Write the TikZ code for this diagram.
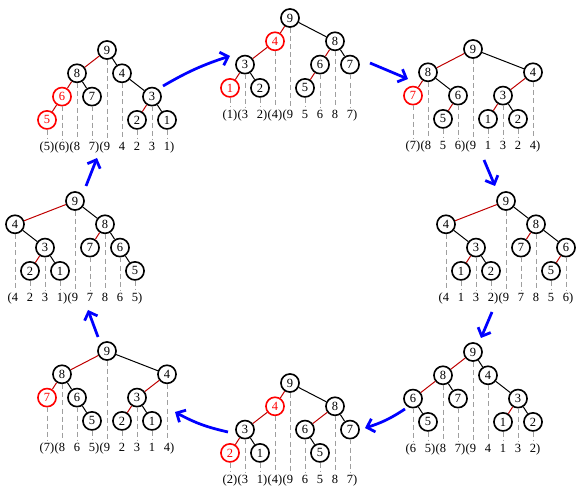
\documentclass[tikz,border=0pt]{standalone}
\usepackage{fontspec}
\setmainfont{Liberation Serif}
\usepackage{tikz}
\usetikzlibrary{arrows.meta}

\newcommand{\LP}{\llap{(}}
\newcommand{\RP}{\rlap{)}}

\begin{document}
\begin{tikzpicture}[x=0.8pt,y=-0.8pt,
  vtx/.style={circle,draw,line width=1.3pt,fill=white,minimum size=14.5pt,inner sep=0pt},
  hot/.style={vtx,draw=red,text=red},
  redge/.style={red!75!black,line width=0.8pt},
  bedge/.style={black,line width=0.8pt},
  guide/.style={gray!75,dash pattern=on 4pt off 2.5pt,line width=0.6pt},
  seq/.style={inner sep=1pt,text height=7.5pt,text depth=2.5pt},
  flow/.style={blue,line width=2.2pt,-{Straight Barb[length=5.5pt,width=11pt]}}]
\useasboundingbox (0,0) rectangle (581,491);

% tree A (top left)
\begin{scope}[shift={(47,50)},x=12pt,y=-18.64pt,name prefix=A-]
\node[vtx] (v9) at (4,0) {9};
\node[vtx] (v8) at (2,1) {8};
\node[vtx] (v4) at (5,1) {4};
\node[hot] (v6) at (1,2) {6};
\node[vtx] (v7) at (3,2) {7};
\node[vtx] (v3) at (7,2) {3};
\node[hot] (v5) at (0,3) {5};
\node[vtx] (v2) at (6,3) {2};
\node[vtx] (v1) at (8,3) {1};
\draw[redge] (v9) -- (v8);
\draw[bedge] (v9) -- (v4);
\draw[redge] (v8) -- (v6);
\draw[bedge] (v8) -- (v7);
\draw[redge] (v6) -- (v5);
\draw[bedge] (v4) -- (v3);
\draw[redge] (v3) -- (v2);
\draw[bedge] (v3) -- (v1);
\foreach \i/\t in {0/\LP5\RP,1/\LP6\RP,2/\LP8,3/7\RP,4/\LP9,5/4,6/2,7/3,8/1\RP}
  \node[seq] (l\i) at (\i,4.16) {\t};
\foreach \v/\i in {v5/0,v6/1,v8/2,v7/3,v9/4,v4/5,v2/6,v3/7,v1/8}
  \draw[guide] (\v) -- (l\i);
\end{scope}

% tree B (top middle)
\begin{scope}[shift={(230,18)},x=12pt,y=-18.64pt,name prefix=B-]
\node[vtx] (v9) at (4,0) {9};
\node[hot] (v4) at (3,1) {4};
\node[vtx] (v8) at (7,1) {8};
\node[vtx] (v3) at (1,2) {3};
\node[vtx] (v6) at (6,2) {6};
\node[vtx] (v7) at (8,2) {7};
\node[hot] (v1) at (0,3) {1};
\node[vtx] (v2) at (2,3) {2};
\node[vtx] (v5) at (5,3) {5};
\draw[redge] (v9) -- (v4);
\draw[bedge] (v9) -- (v8);
\draw[redge] (v4) -- (v3);
\draw[redge] (v3) -- (v1);
\draw[bedge] (v3) -- (v2);
\draw[redge] (v8) -- (v6);
\draw[bedge] (v8) -- (v7);
\draw[redge] (v6) -- (v5);
\foreach \i/\t in {0/\LP1\RP,1/\LP3,2/2\RP,3/\LP4\RP,4/\LP9,5/5,6/6,7/8,8/7\RP}
  \node[seq] (l\i) at (\i,4.16) {\t};
\foreach \v/\i in {v1/0,v3/1,v2/2,v4/3,v9/4,v5/5,v6/6,v8/7,v7/8}
  \draw[guide] (\v) -- (l\i);
\end{scope}

% tree C (top right)
\begin{scope}[shift={(413,49)},x=12pt,y=-18.64pt,name prefix=C-]
\node[vtx] (v9) at (4,0) {9};
\node[vtx] (v8) at (1,1) {8};
\node[vtx] (v4) at (8,1) {4};
\node[hot] (v7) at (0,2) {7};
\node[vtx] (v6) at (3,2) {6};
\node[vtx] (v3) at (6,2) {3};
\node[vtx] (v5) at (2,3) {5};
\node[vtx] (v1) at (5,3) {1};
\node[vtx] (v2) at (7,3) {2};
\draw[redge] (v9) -- (v8);
\draw[bedge] (v9) -- (v4);
\draw[redge] (v8) -- (v7);
\draw[bedge] (v8) -- (v6);
\draw[redge] (v6) -- (v5);
\draw[redge] (v4) -- (v3);
\draw[redge] (v3) -- (v1);
\draw[bedge] (v3) -- (v2);
\foreach \i/\t in {0/\LP7\RP,1/\LP8,2/5,3/6\RP,4/\LP9,5/1,6/3,7/2,8/4\RP}
  \node[seq] (l\i) at (\i,4.16) {\t};
\foreach \v/\i in {v7/0,v8/1,v5/2,v6/3,v9/4,v1/5,v3/6,v2/7,v4/8}
  \draw[guide] (\v) -- (l\i);
\end{scope}

% tree D (right)
\begin{scope}[shift={(446,201)},x=12pt,y=-18.64pt,name prefix=D-]
\node[vtx] (v9) at (4,0) {9};
\node[vtx] (v4) at (0,1) {4};
\node[vtx] (v8) at (6,1) {8};
\node[vtx] (v3) at (2,2) {3};
\node[vtx] (v7) at (5,2) {7};
\node[vtx] (v6) at (8,2) {6};
\node[vtx] (v1) at (1,3) {1};
\node[vtx] (v2) at (3,3) {2};
\node[vtx] (v5) at (7,3) {5};
\draw[redge] (v9) -- (v4);
\draw[bedge] (v9) -- (v8);
\draw[bedge] (v4) -- (v3);
\draw[redge] (v3) -- (v1);
\draw[bedge] (v3) -- (v2);
\draw[redge] (v8) -- (v7);
\draw[bedge] (v8) -- (v6);
\draw[redge] (v6) -- (v5);
\foreach \i/\t in {0/\LP4,1/1,2/3,3/2\RP,4/\LP9,5/7,6/8,7/5,8/6\RP}
  \node[seq] (l\i) at (\i,4.16) {\t};
\foreach \v/\i in {v4/0,v1/1,v3/2,v2/3,v9/4,v7/5,v8/6,v5/7,v6/8}
  \draw[guide] (\v) -- (l\i);
\end{scope}

% tree E (bottom right)
\begin{scope}[shift={(413,352)},x=12pt,y=-18.64pt,name prefix=E-]
\node[vtx] (v9) at (4,0) {9};
\node[vtx] (v8) at (2,1) {8};
\node[vtx] (v4) at (5,1) {4};
\node[vtx] (v6) at (0,2) {6};
\node[vtx] (v7) at (3,2) {7};
\node[vtx] (v3) at (7,2) {3};
\node[vtx] (v5) at (1,3) {5};
\node[vtx] (v1) at (6,3) {1};
\node[vtx] (v2) at (8,3) {2};
\draw[redge] (v9) -- (v8);
\draw[bedge] (v9) -- (v4);
\draw[redge] (v8) -- (v6);
\draw[bedge] (v8) -- (v7);
\draw[bedge] (v6) -- (v5);
\draw[bedge] (v4) -- (v3);
\draw[redge] (v3) -- (v1);
\draw[bedge] (v3) -- (v2);
\foreach \i/\t in {0/\LP6,1/5\RP,2/\LP8,3/7\RP,4/\LP9,5/4,6/1,7/3,8/2\RP}
  \node[seq] (l\i) at (\i,4.16) {\t};
\foreach \v/\i in {v6/0,v5/1,v8/2,v7/3,v9/4,v4/5,v1/6,v3/7,v2/8}
  \draw[guide] (\v) -- (l\i);
\end{scope}

% tree F (bottom middle)
\begin{scope}[shift={(230,383)},x=12pt,y=-18.64pt,name prefix=F-]
\node[vtx] (v9) at (4,0) {9};
\node[hot] (v4) at (3,1) {4};
\node[vtx] (v8) at (7,1) {8};
\node[vtx] (v3) at (1,2) {3};
\node[vtx] (v6) at (5,2) {6};
\node[vtx] (v7) at (8,2) {7};
\node[hot] (v2) at (0,3) {2};
\node[vtx] (v1) at (2,3) {1};
\node[vtx] (v5) at (6,3) {5};
\draw[redge] (v9) -- (v4);
\draw[bedge] (v9) -- (v8);
\draw[redge] (v4) -- (v3);
\draw[redge] (v3) -- (v2);
\draw[bedge] (v3) -- (v1);
\draw[redge] (v8) -- (v6);
\draw[bedge] (v8) -- (v7);
\draw[bedge] (v6) -- (v5);
\foreach \i/\t in {0/\LP2\RP,1/\LP3,2/1\RP,3/\LP4\RP,4/\LP9,5/6,6/5,7/8,8/7\RP}
  \node[seq] (l\i) at (\i,4.16) {\t};
\foreach \v/\i in {v2/0,v3/1,v1/2,v4/3,v9/4,v6/5,v5/6,v8/7,v7/8}
  \draw[guide] (\v) -- (l\i);
\end{scope}

% tree G (bottom left)
\begin{scope}[shift={(47,351)},x=12pt,y=-18.64pt,name prefix=G-]
\node[vtx] (v9) at (4,0) {9};
\node[vtx] (v8) at (1,1) {8};
\node[vtx] (v4) at (8,1) {4};
\node[hot] (v7) at (0,2) {7};
\node[vtx] (v6) at (2,2) {6};
\node[vtx] (v3) at (6,2) {3};
\node[vtx] (v5) at (3,3) {5};
\node[vtx] (v2) at (5,3) {2};
\node[vtx] (v1) at (7,3) {1};
\draw[redge] (v9) -- (v8);
\draw[bedge] (v9) -- (v4);
\draw[redge] (v8) -- (v7);
\draw[bedge] (v8) -- (v6);
\draw[bedge] (v6) -- (v5);
\draw[redge] (v4) -- (v3);
\draw[redge] (v3) -- (v2);
\draw[bedge] (v3) -- (v1);
\foreach \i/\t in {0/\LP7\RP,1/\LP8,2/6,3/5\RP,4/\LP9,5/2,6/3,7/1,8/4\RP}
  \node[seq] (l\i) at (\i,4.16) {\t};
\foreach \v/\i in {v7/0,v8/1,v6/2,v5/3,v9/4,v2/5,v3/6,v1/7,v4/8}
  \draw[guide] (\v) -- (l\i);
\end{scope}

% tree H (left)
\begin{scope}[shift={(15,201)},x=12pt,y=-18.64pt,name prefix=H-]
\node[vtx] (v9) at (4,0) {9};
\node[vtx] (v4) at (0,1) {4};
\node[vtx] (v8) at (6,1) {8};
\node[vtx] (v3) at (2,2) {3};
\node[vtx] (v7) at (5,2) {7};
\node[vtx] (v6) at (7,2) {6};
\node[vtx] (v2) at (1,3) {2};
\node[vtx] (v1) at (3,3) {1};
\node[vtx] (v5) at (8,3) {5};
\draw[redge] (v9) -- (v4);
\draw[bedge] (v9) -- (v8);
\draw[bedge] (v4) -- (v3);
\draw[redge] (v3) -- (v2);
\draw[bedge] (v3) -- (v1);
\draw[redge] (v8) -- (v7);
\draw[bedge] (v8) -- (v6);
\draw[bedge] (v6) -- (v5);
\foreach \i/\t in {0/\LP4,1/2,2/3,3/1\RP,4/\LP9,5/7,6/8,7/6,8/5\RP}
  \node[seq] (l\i) at (\i,4.16) {\t};
\foreach \v/\i in {v4/0,v2/1,v3/2,v1/3,v9/4,v7/5,v8/6,v6/7,v5/8}
  \draw[guide] (\v) -- (l\i);
\end{scope}

% arrows round the cycle
\coordinate (s1) at (163,86);  \coordinate (e1) at (230,56);
\coordinate (s2) at (370,63);  \coordinate (e2) at (408,79);
\coordinate (s3) at (484,160); \coordinate (e3) at (495,186);
\coordinate (s4) at (492,312); \coordinate (e4) at (481,338);
\coordinate (s5) at (405,409); \coordinate (e5) at (365,428);
\coordinate (s6) at (228,432); \coordinate (e6) at (175,412);
\coordinate (s7) at (98,337);  \coordinate (e7) at (88,310);
\coordinate (s8) at (86,186);  \coordinate (e8) at (97,158);
\draw[flow] (s1) to[bend left=6] (e1);
\draw[flow] (s2) -- (e2);
\draw[flow] (s3) -- (e3);
\draw[flow] (s4) -- (e4);
\draw[flow] (s5) to[bend left=8] (e5);
\draw[flow] (s6) to[bend left=8] (e6);
\draw[flow] (s7) -- (e7);
\draw[flow] (s8) -- (e8);
\end{tikzpicture}
\end{document}
